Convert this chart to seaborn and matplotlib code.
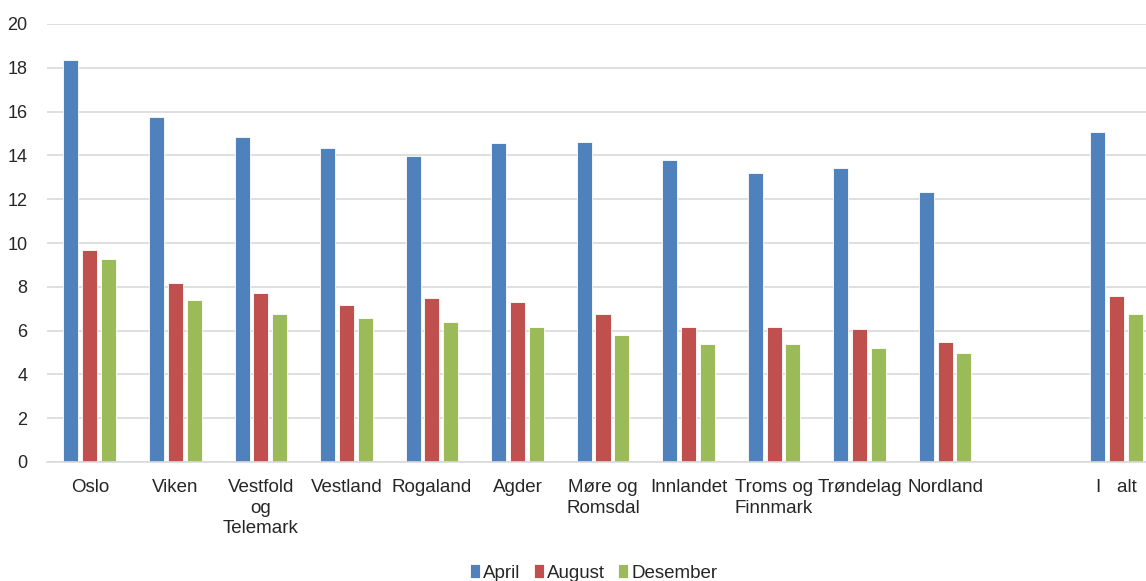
import pandas as pd
import matplotlib
matplotlib.use('Agg')
import matplotlib.pyplot as plt
import seaborn as sns

# -----------------------------
# Data
# -----------------------------
regions = ['Oslo', 'Viken', 'Vestfold og Telemark', 'Vestland', 'Rogaland', 'Agder',
           'Møre og Romsdal', 'Innlandet', 'Troms og Finnmark', 'Trøndelag', 'Nordland',
           'I alt']
tick_labels = ['Oslo', 'Viken', 'Vestfold\nog\nTelemark', 'Vestland', 'Rogaland', 'Agder',
               'Møre og\nRomsdal', 'Innlandet', 'Troms og\nFinnmark', 'Trøndelag', 'Nordland',
               '', 'I   alt']
april = [18.36, 15.74, 14.86, 14.36, 13.98, 14.56, 14.60, 13.81, 13.19, 13.44, 12.32, 15.06]
august = [9.69, 8.18, 7.70, 7.19, 7.48, 7.29, 6.78, 6.17, 6.17, 6.08, 5.49, 7.59]
desember = [9.29, 7.38, 6.78, 6.59, 6.39, 6.17, 5.79, 5.38, 5.38, 5.19, 4.99, 6.78]
months = ['April', 'August', 'Desember']
colors = ['#4F81BD', '#C0504D', '#9BBB59']

df = pd.DataFrame({'Region': regions, 'April': april, 'August': august, 'Desember': desember})
df_long = df.melt(id_vars='Region', var_name='Måned', value_name='Verdi')

# rekkefølge med tomt felt foran "I alt"
order = regions[:-1] + [' '] + ['I alt']

# -----------------------------
# Grafico
# -----------------------------
sns.set_style('white')
plt.rcParams['font.family'] = ['Liberation Sans', 'DejaVu Sans']

fig, ax = plt.subplots(figsize=(11.46, 5.81), dpi=100)
sns.barplot(data=df_long, x='Region', y='Verdi', hue='Måned', order=order,
            hue_order=months, palette=colors, saturation=1, width=0.66, gap=0.2,
            edgecolor='white', linewidth=0.6, ax=ax)

ax.set_ylim(0, 20)
ax.set_yticks(range(0, 21, 2))
ax.yaxis.grid(True, color='#D9D9D9', linewidth=1.2)
ax.set_axisbelow(True)
for s in ['top', 'right', 'left']:
    ax.spines[s].set_visible(False)
ax.spines['bottom'].set_color('#D9D9D9')
ax.spines['bottom'].set_linewidth(1.2)
ax.set_xticks(range(len(order)))
ax.set_xticklabels(tick_labels, fontsize=13.5, linespacing=1.3)
ax.tick_params(axis='y', labelsize=13, length=0, pad=14)
ax.tick_params(axis='x', length=0, pad=12)
ax.set_xlabel('')
ax.set_ylabel('')
ax.set_xlim(-0.5, len(order) - 0.5)

handles, labels = ax.get_legend_handles_labels()
ax.legend_.remove()
fig.legend(handles, labels, loc='lower center', bbox_to_anchor=(0.518, -0.03), ncol=3,
           frameon=False, fontsize=13.5, handlelength=0.55, handleheight=0.8,
           handletextpad=0.15, columnspacing=0.7)

plt.subplots_adjust(left=47/1146, right=1159/1146, top=1 - 24/581, bottom=1 - 462/581)
plt.savefig('out.png')
